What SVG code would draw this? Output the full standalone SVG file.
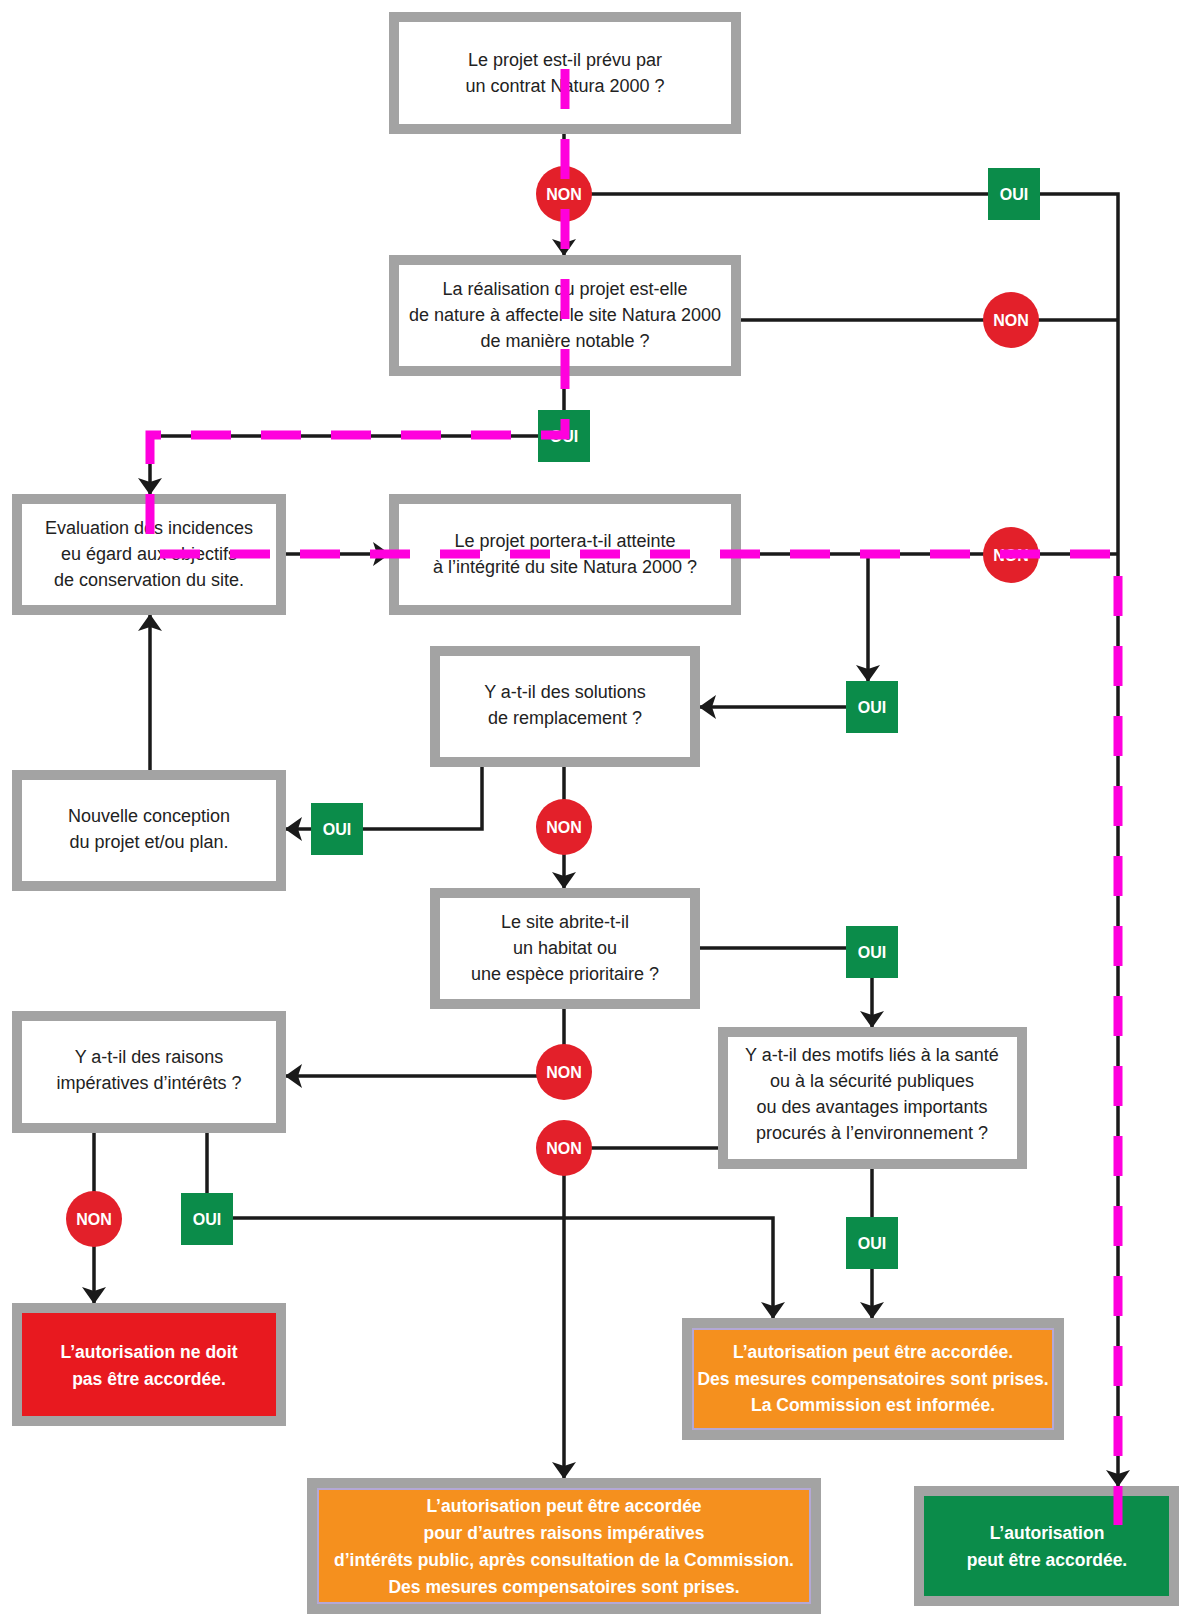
<svg xmlns="http://www.w3.org/2000/svg" width="1181" height="1614" viewBox="0 0 1181 1614">
<style>
  .box { fill: #ffffff; stroke: #a3a3a3; stroke-width: 10; }
  .obox { fill: #f5901e; stroke: #a3a3a3; stroke-width: 10; }
  .rbox { fill: #e8191f; stroke: #a3a3a3; stroke-width: 10; }
  .gbox { fill: #0b8c4a; stroke: #a3a3a3; stroke-width: 10; }
  .inner { fill: none; stroke: #b4a8d6; stroke-width: 2; }
  .t { font-family: "Liberation Sans", Arial, sans-serif; font-size: 18px; fill: #222222; text-anchor: middle; }
  .tw { font-family: "Liberation Sans", Arial, sans-serif; font-size: 17.5px; font-weight: bold; fill: #ffffff; text-anchor: middle; }
  .ln { fill: none; stroke: #1a1a1a; stroke-width: 3.5; }
  .arr { marker-end: url(#ah); }
  .non { fill: #e3202a; }
  .oui { fill: #0b8c4a; }
  .bt { font-family: "Liberation Sans", Arial, sans-serif; font-size: 16px; font-weight: bold; fill: #ffffff; text-anchor: middle; }
  .hl { fill: none; stroke: #ff00dd; stroke-width: 9; stroke-dasharray: 40 30; }
</style>
<defs>
  <marker id="ah" markerUnits="userSpaceOnUse" markerWidth="18" markerHeight="24" refX="16" refY="12" orient="auto">
    <path d="M0,0 L17,12 L0,24 L4,12 z" fill="#1a1a1a"/>
  </marker>
</defs>
<rect width="1181" height="1614" fill="#ffffff"/>

<g id="connectors">
  <path class="ln arr" d="M564,134 V255"/>
  <path class="ln arr" d="M564,194 H1118 V1486"/>
  <path class="ln" d="M741,320 H1118"/>
  <path class="ln arr" d="M564,376 V436 H150 V494"/>
  <path class="ln arr" d="M286,554 H389"/>
  <path class="ln" d="M741,554 H1118"/>
  <path class="ln arr" d="M868,554 V681"/>
  <path class="ln arr" d="M846,707 H700"/>
  <path class="ln arr" d="M482,767 V829 H286"/>
  <path class="ln arr" d="M150,770 V615"/>
  <path class="ln arr" d="M564,767 V888"/>
  <path class="ln" d="M700,948 H872"/>
  <path class="ln arr" d="M872,948 V1027"/>
  <path class="ln arr" d="M564,1009 V1076 H286"/>
  <path class="ln" d="M718,1148 H564"/>
  <path class="ln arr" d="M564,1148 V1478"/>
  <path class="ln arr" d="M94,1133 V1303"/>
  <path class="ln arr" d="M207,1133 V1218 H773 V1318"/>
  <path class="ln arr" d="M872,1169 V1318"/>
</g>

<g id="n1"><rect class="box" x="394" y="17" width="342" height="112"/>
  <text class="t" x="565" y="66">Le projet est-il prévu par</text>
  <text class="t" x="565" y="92">un contrat Natura 2000 ?</text></g>
<g id="n2"><rect class="box" x="394" y="260" width="342" height="111"/>
  <text class="t" x="565" y="295">La réalisation du projet est-elle</text>
  <text class="t" x="565" y="321">de nature à affecter le site Natura 2000</text>
  <text class="t" x="565" y="347">de manière notable ?</text></g>
<g id="n3"><rect class="box" x="17" y="499" width="264" height="111"/>
  <text class="t" x="149" y="534">Evaluation des incidences</text>
  <text class="t" x="149" y="560">eu égard aux objectifs</text>
  <text class="t" x="149" y="586">de conservation du site.</text></g>
<g id="n4"><rect class="box" x="394" y="499" width="342" height="111"/>
  <text class="t" x="565" y="547">Le projet portera-t-il atteinte</text>
  <text class="t" x="565" y="573">à l’intégrité du site Natura 2000 ?</text></g>
<g id="n5"><rect class="box" x="435" y="651" width="260" height="111"/>
  <text class="t" x="565" y="698">Y a-t-il des solutions</text>
  <text class="t" x="565" y="724">de remplacement ?</text></g>
<g id="n6"><rect class="box" x="17" y="775" width="264" height="111"/>
  <text class="t" x="149" y="822">Nouvelle conception</text>
  <text class="t" x="149" y="848">du projet et/ou plan.</text></g>
<g id="n7"><rect class="box" x="435" y="893" width="260" height="111"/>
  <text class="t" x="565" y="928">Le site abrite-t-il</text>
  <text class="t" x="565" y="954">un habitat ou</text>
  <text class="t" x="565" y="980">une espèce prioritaire ?</text></g>
<g id="n8"><rect class="box" x="723" y="1032" width="299" height="132"/>
  <text class="t" x="872" y="1061">Y a-t-il des motifs liés à la santé</text>
  <text class="t" x="872" y="1087">ou à la sécurité publiques</text>
  <text class="t" x="872" y="1113">ou des avantages importants</text>
  <text class="t" x="872" y="1139">procurés à l’environnement ?</text></g>
<g id="n9"><rect class="box" x="17" y="1016" width="264" height="112"/>
  <text class="t" x="149" y="1063">Y a-t-il des raisons</text>
  <text class="t" x="149" y="1089">impératives d’intérêts ?</text></g>
<g id="n10"><rect class="rbox" x="17" y="1308" width="264" height="113"/>
  <text class="tw" x="149" y="1358">L’autorisation ne doit</text>
  <text class="tw" x="149" y="1385">pas être accordée.</text></g>
<g id="n11"><rect class="obox" x="687" y="1323" width="372" height="112"/>
  <rect class="inner" x="693" y="1329" width="360" height="100"/>
  <text class="tw" x="873" y="1358">L’autorisation peut être accordée.</text>
  <text class="tw" x="873" y="1385">Des mesures compensatoires sont prises.</text>
  <text class="tw" x="873" y="1411">La Commission est informée.</text></g>
<g id="n12"><rect class="obox" x="312" y="1483" width="504" height="126"/>
  <rect class="inner" x="318" y="1489" width="492" height="114"/>
  <text class="tw" x="564" y="1512">L’autorisation peut être accordée</text>
  <text class="tw" x="564" y="1539">pour d’autres raisons impératives</text>
  <text class="tw" x="564" y="1566">d’intérêts public, après consultation de la Commission.</text>
  <text class="tw" x="564" y="1593">Des mesures compensatoires sont prises.</text></g>
<g id="n13"><rect class="gbox" x="919" y="1491" width="255" height="110"/>
  <text class="tw" x="1047" y="1539">L’autorisation</text>
  <text class="tw" x="1047" y="1566">peut être accordée.</text></g>

<g id="labels">
  <g id="b-non1"><circle class="non" cx="564" cy="194" r="28"/><text class="bt" x="564" y="200">NON</text></g>
  <g id="b-oui1"><rect class="oui" x="988" y="168" width="52" height="52"/><text class="bt" x="1014" y="200">OUI</text></g>
  <g id="b-non2"><circle class="non" cx="1011" cy="320" r="28"/><text class="bt" x="1011" y="326">NON</text></g>
  <g id="b-oui2"><rect class="oui" x="538" y="410" width="52" height="52"/><text class="bt" x="564" y="442">OUI</text></g>
  <g id="b-non3"><circle class="non" cx="1011" cy="555" r="28"/><text class="bt" x="1011" y="561">NON</text></g>
  <g id="b-oui3"><rect class="oui" x="846" y="681" width="52" height="52"/><text class="bt" x="872" y="713">OUI</text></g>
  <g id="b-oui4"><rect class="oui" x="311" y="803" width="52" height="52"/><text class="bt" x="337" y="835">OUI</text></g>
  <g id="b-non4"><circle class="non" cx="564" cy="827" r="28"/><text class="bt" x="564" y="833">NON</text></g>
  <g id="b-oui5"><rect class="oui" x="846" y="926" width="52" height="52"/><text class="bt" x="872" y="958">OUI</text></g>
  <g id="b-non5"><circle class="non" cx="564" cy="1072" r="28"/><text class="bt" x="564" y="1078">NON</text></g>
  <g id="b-non6"><circle class="non" cx="564" cy="1148" r="28"/><text class="bt" x="564" y="1154">NON</text></g>
  <g id="b-non7"><circle class="non" cx="94" cy="1219" r="28"/><text class="bt" x="94" y="1225">NON</text></g>
  <g id="b-oui7"><rect class="oui" x="181" y="1193" width="52" height="52"/><text class="bt" x="207" y="1225">OUI</text></g>
  <g id="b-oui8"><rect class="oui" x="846" y="1217" width="52" height="52"/><text class="bt" x="872" y="1249">OUI</text></g>
</g>

<g id="highlight">
  <path class="hl" d="M565,69 V435 H150 V554 H1118 V1525"/>
</g>
</svg>
